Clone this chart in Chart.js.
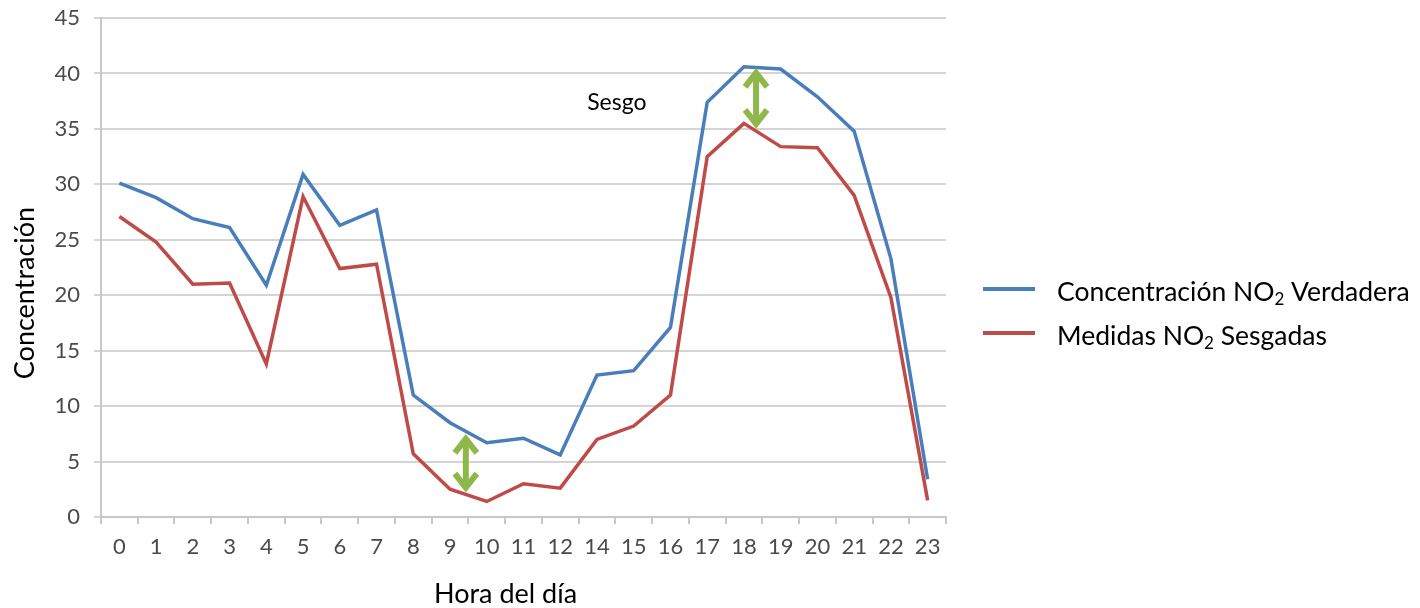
<!DOCTYPE html>
<html>
<head>
<meta charset="utf-8">
<script src="https://cdn.jsdelivr.net/npm/chart.js@4.4.1/dist/chart.umd.min.js"></script>
<style>
  html, body { margin: 0; padding: 0; background: #ffffff; }
  #wrap { width: 1420px; height: 608px; position: relative; }
</style>
</head>
<body>
<div id="wrap"><canvas id="c" width="1420" height="608"></canvas></div>
<script>
// Hour of day (hour 13 has no record)
const hours = ['0','1','2','3','4','5','6','7','8','9','10','11','12','14','15','16','17','18','19','20','21','22','23'];

// True NO2 concentration per hour
const trueNO2 = [30.1, 28.8, 26.9, 26.1, 20.9, 30.9, 26.3, 27.7, 11.0, 8.5, 6.7, 7.1, 5.6, 12.8, 13.2, 17.1, 37.4, 40.6, 40.4, 37.9, 34.8, 23.3, 3.4];

// Biased NO2 measurements per hour
const biasedNO2 = [27.1, 24.8, 21.0, 21.1, 13.8, 28.9, 22.4, 22.8, 5.7, 2.5, 1.4, 3.0, 2.6, 7.0, 8.2, 11.0, 32.5, 35.5, 33.4, 33.3, 29.0, 19.8, 1.5];

// Series names (the "2" in NO2 is drawn as a subscript)
const seriesNames = [
  ['Concentración NO', '2', ' Verdadera'],
  ['Medidas NO', '2', ' Sesgadas']
];

// Axis titles
const xTitle = 'Hora del día';
const yTitle = 'Concentración';

// Bias markers: category position and the two values the arrow spans
const biasIndex = [9.43, 17.33];
const biasTop = [7.5, 40.5];
const biasBottom = [2.2, 35.0];
const biasLabel = 'Sesgo';

const BLUE = '#4a7ebb';
const RED = '#be4b48';
const GREEN = '#8fb84a';
const FONT = 'Lato, "Open Sans", sans-serif';

function arrowHead(ctx, x, y, dir) {
  ctx.beginPath();
  ctx.moveTo(x - 11, y + dir * 14);
  ctx.lineTo(x, y);
  ctx.lineTo(x + 11, y + dir * 14);
  ctx.stroke();
}

const biasPlugin = {
  id: 'biasArrows',
  afterDatasetsDraw(chart) {
    const ctx = chart.ctx;
    const xs = chart.scales.x, ys = chart.scales.y;
    ctx.save();
    ctx.strokeStyle = GREEN;
    ctx.lineWidth = 6;
    ctx.lineJoin = 'miter';
    ctx.miterLimit = 10;
    for (let i = 0; i < biasIndex.length; i++) {
      const x = xs.getPixelForValue(biasIndex[i]);
      const y1 = ys.getPixelForValue(biasTop[i]);
      const y2 = ys.getPixelForValue(biasBottom[i]);
      ctx.beginPath();
      ctx.moveTo(x, y1 + 6);
      ctx.lineTo(x, y2 - 6);
      ctx.stroke();
      arrowHead(ctx, x, y1 + 5, 1);
      arrowHead(ctx, x, y2 - 5, -1);
    }
    // label of the upper marker
    ctx.fillStyle = '#000000';
    ctx.font = '23px ' + FONT;
    ctx.textAlign = 'center';
    ctx.textBaseline = 'middle';
    ctx.fillText(biasLabel, xs.getPixelForValue(13.54), ys.getPixelForValue(37.4));
    ctx.restore();
  }
};

// Axis titles, placed to the lower left of the plot centre
const titlePlugin = {
  id: 'axisTitles',
  afterDraw(chart) {
    const ctx = chart.ctx;
    const area = chart.chartArea;
    ctx.save();
    ctx.fillStyle = '#000000';
    ctx.font = '27px ' + FONT;
    ctx.textAlign = 'center';
    ctx.textBaseline = 'middle';
    ctx.fillText(xTitle, (area.left + area.right) / 2 - 18, 594);
    ctx.translate(25, 293);
    ctx.rotate(-Math.PI / 2);
    ctx.fillText(yTitle, 0, 0);
    ctx.restore();
  }
};

const legendPlugin = {
  id: 'subLegend',
  afterDraw(chart) {
    const ctx = chart.ctx;
    const colors = [BLUE, RED];
    const left = chart.chartArea.right + 37;
    const rowY = [289, 333];
    ctx.save();
    for (let i = 0; i < seriesNames.length; i++) {
      const y = rowY[i];
      ctx.strokeStyle = colors[i];
      ctx.lineWidth = 4;
      ctx.beginPath();
      ctx.moveTo(left, y);
      ctx.lineTo(left + 52, y);
      ctx.stroke();
      let x = left + 74;
      ctx.fillStyle = '#000000';
      ctx.textAlign = 'left';
      ctx.textBaseline = 'middle';
      const [a, sub, b] = seriesNames[i];
      ctx.font = '26.5px ' + FONT;
      ctx.fillText(a, x, y + 3);
      x += ctx.measureText(a).width;
      ctx.font = '17px ' + FONT;
      ctx.fillText(sub, x, y + 11);
      x += ctx.measureText(sub).width;
      ctx.font = '26.5px ' + FONT;
      ctx.fillText(b, x, y + 3);
    }
    ctx.restore();
  }
};

new Chart(document.getElementById('c'), {
  type: 'line',
  data: {
    labels: hours,
    datasets: [
      { label: seriesNames[0].join(''), data: trueNO2, borderColor: BLUE, backgroundColor: BLUE,
        borderWidth: 3.5, pointRadius: 0, tension: 0, fill: false },
      { label: seriesNames[1].join(''), data: biasedNO2, borderColor: RED, backgroundColor: RED,
        borderWidth: 3.5, pointRadius: 0, tension: 0, fill: false }
    ]
  },
  options: {
    responsive: false,
    animation: false,
    events: [],
    layout: { padding: { top: 18, right: 474, bottom: 0, left: 0 } },
    plugins: {
      legend: { display: false },
      tooltip: { enabled: false }
    },
    scales: {
      x: {
        offset: true,
        grid: { display: true, drawOnChartArea: false, drawTicks: true, tickLength: 7,
                offset: true, color: '#c8c8c8', lineWidth: 2 },
        border: { display: true, color: '#c8c8c8', width: 2 },
        ticks: { color: '#4a4a4a', font: { family: FONT, size: 22 }, padding: 10, maxRotation: 0, autoSkip: false },
        afterFit(scale) { scale.height = 91; scale.paddingLeft = 0; scale.paddingRight = 0; }
      },
      y: {
        min: 0, max: 45,
        ticks: { stepSize: 5, color: '#4a4a4a', font: { family: FONT, size: 22 }, padding: 14 },
        grid: { color: '#d4d4d4', lineWidth: 2, tickLength: 7 },
        border: { display: true, color: '#c8c8c8', width: 2 },
        afterFit(scale) { scale.width = 101; scale.paddingTop = 0; scale.paddingBottom = 0; }
      }
    }
  },
  plugins: [biasPlugin, titlePlugin, legendPlugin]
});
</script>
</body>
</html>
